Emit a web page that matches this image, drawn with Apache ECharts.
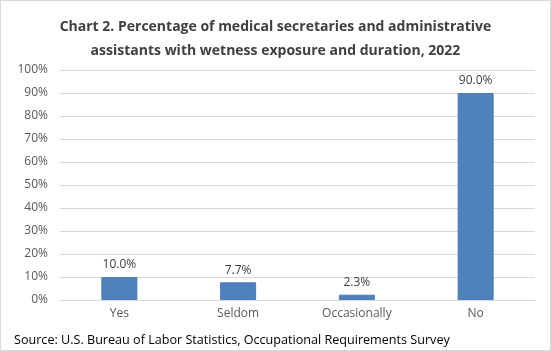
<!DOCTYPE html>
<html><head><meta charset="utf-8">
<script src="https://cdn.jsdelivr.net/npm/echarts@6/dist/echarts.min.js"></script>
<style>html,body{margin:0;padding:0;background:#fff}#c{width:551px;height:351px;box-sizing:border-box;border:1px solid #d9d9d9}</style>
</head><body><div id="c"></div>
<script>
const categories = ["Yes", "Seldom", "Occasionally", "No"];
const values = [10.0, 7.7, 2.3, 90.0];
const titleLines = ["Chart 2. Percentage of medical secretaries and administrative", "assistants with wetness exposure and duration, 2022"];
const sourceText = "Source: U.S. Bureau of Labor Statistics, Occupational Requirements Survey";

const chart = echarts.init(document.getElementById('c'), null, {renderer: 'canvas'});
chart.setOption({
  animation: false,
  textStyle: {fontFamily: "Open Sans"},
  title: [{
    text: titleLines.join("\n"),
    left: 'center', top: 9,
    textStyle: {fontSize: 14, fontWeight: 'bold', color: '#404040', lineHeight: 24, fontFamily: "Open Sans"}
  }, {
    text: sourceText, left: 8, top: 328,
    textStyle: {fontSize: 12.6, fontWeight: 'normal', color: '#000', fontFamily: "Open Sans"}
  }],
  grid: {left: 59, right: 15, top: 69, bottom: 50, containLabel: false},
  xAxis: {
    type: 'category', data: categories,
    axisLine: {lineStyle: {color: '#d9d9d9'}},
    axisTick: {show: false},
    axisLabel: {color: '#595959', fontSize: 12, margin: 8, fontFamily: "Open Sans"}
  },
  yAxis: {
    type: 'value', min: 0, max: 100, interval: 10,
    axisLabel: {formatter: '{value}%', color: '#595959', fontSize: 12, margin: 12, fontFamily: "Open Sans"},
    splitLine: {lineStyle: {color: '#d9d9d9'}},
    axisLine: {show: false}, axisTick: {show: false}
  },
  series: [{
    type: 'bar', data: values, barWidth: 36,
    itemStyle: {color: '#4f81bd', borderColor: '#4a7ebb', borderWidth: 1},
    label: {show: true, position: 'top', distance: 6, color: '#404040', fontSize: 12, fontFamily: "Open Sans",
      formatter: p => p.value.toFixed(1) + '%'}
  }]
});
</script></body></html>
